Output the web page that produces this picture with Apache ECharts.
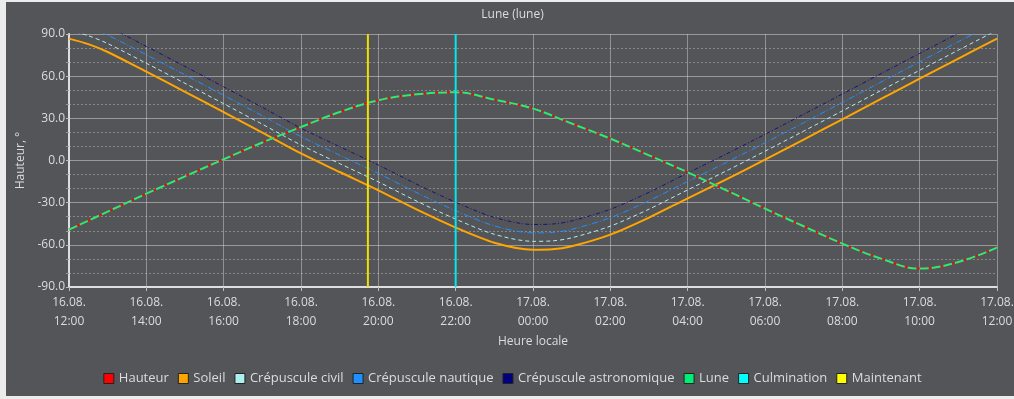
<!DOCTYPE html>
<html>
<head>
<meta charset="utf-8">
<script src="https://cdn.jsdelivr.net/npm/echarts@6/dist/echarts.min.js"></script>
<style>
html,body{margin:0;padding:0;background:#ececec;width:1014px;height:399px;overflow:hidden;}
#c{position:absolute;left:6px;top:2px;width:1013px;height:394px;}
</style>
</head>
<body>
<div id="c"></div>
<script>
// hours after 16.08. 12:00
var sunHours = [0,0.5,1,2,3,4,5,6,7,8,9,10,11,12,12.5,13,14,15,16,17,18,19,20,21,22,23,24];
var soleil = [86.7,82.8,77.2,63.2,48.9,34.4,19.8,5.0,-8.2,-21.2,-35.0,-47.7,-58.5,-63.5,-63.2,-61.0,-52.7,-40.6,-26.9,-13.4,0.6,14.9,29.3,43.8,58.2,72.5,86.7];
var civil = [92.7,88.8,83.2,69.2,54.9,40.4,25.8,11.0,-2.2,-15.2,-29.0,-41.7,-52.5,-57.5,-57.2,-55.0,-46.7,-34.6,-20.9,-7.4,6.6,20.9,35.3,49.8,64.2,78.5,92.7];
var nautique = [98.7,94.8,89.2,75.2,60.9,46.4,31.8,17.0,3.8,-9.2,-23.0,-35.7,-46.5,-51.5,-51.2,-49.0,-40.7,-28.6,-14.9,-1.4,12.6,26.9,41.3,55.8,70.2,84.5,98.7];
var astro = [104.7,100.8,95.2,81.2,66.9,52.4,37.8,23.0,9.8,-3.2,-17.0,-29.7,-40.5,-45.5,-45.2,-43.0,-34.7,-22.6,-8.9,4.6,18.6,32.9,47.3,61.8,76.2,90.5,104.7];
var moonHours = [0,1,2,3,4,5,6,7,8,9,10,11,12,13,14,15,16,17,18,19,20,21,22,23,24];
var lune = [-49.2,-36.4,-23.6,-11.3,0.9,12.8,23.8,34.5,42.8,47.1,48.5,43.3,36.9,26.3,15.6,3.7,-8.4,-21.2,-34.2,-46.8,-59.1,-69.8,-76.9,-72.2,-62.0];
var culminationHour = 10.0;
var maintenantHour = 7.73;
var xTickDays = ['16.08.','16.08.','16.08.','16.08.','16.08.','16.08.','17.08.','17.08.','17.08.','17.08.','17.08.','17.08.','17.08.'];
var xTickTimes = ['12:00','14:00','16:00','18:00','20:00','22:00','00:00','02:00','04:00','06:00','08:00','10:00','12:00'];

function pairs(xs, ys){ return xs.map(function(x,i){ return [x, ys[i]]; }); }

var txt = '#dcdcdc';
var font = 'Open Sans';
var chart = echarts.init(document.getElementById('c'));
chart.setOption({
  backgroundColor: '#545559',
  animation: false,
  textStyle: {fontFamily: font},
  graphic: [{
    type: 'text', left: 'center', top: 7,
    style: {text: 'Lune (lune)', fill: txt, font: '12px "Open Sans"'}
  }],
  grid: {left: 63, right: 22, top: 32, bottom: 109, containLabel: false, outerBoundsMode: 'none'},
  legend: {
    left: 'center', top: 365, itemWidth: 10, itemHeight: 10, itemGap: 9,
    icon: 'rect',
    textStyle: {color: txt, fontSize: 13, fontFamily: font},
    itemStyle: {borderColor: '#222', borderWidth: 1},
    data: ['Hauteur','Soleil','Crépuscule civil','Crépuscule nautique','Crépuscule astronomique','Lune','Culmination','Maintenant']
  },
  xAxis: {
    type: 'value', min: 0, max: 24, interval: 2,
    name: 'Heure locale', nameLocation: 'middle', nameGap: 46,
    nameTextStyle: {color: txt, fontSize: 12},
    axisLine: {show: true, onZero: false, lineStyle: {color: '#dedede', width: 2}},
    axisTick: {show: true, length: 4, lineStyle: {color: '#bdbdbd'}},
    axisLabel: {color: txt, fontSize: 12, lineHeight: 19, margin: 6,
      formatter: function(v){ var i = Math.round(v/2); return xTickDays[i] + '\n' + xTickTimes[i]; }},
    splitLine: {show: true, lineStyle: {color: 'rgba(220,220,220,0.45)', width: 1}}
  },
  yAxis: {
    type: 'value', min: -90, max: 90, interval: 30,
    name: 'Hauteur, °', nameLocation: 'middle', nameGap: 40, nameRotate: 90,
    nameTextStyle: {color: txt, fontSize: 12},
    axisLine: {show: true, lineStyle: {color: '#dedede', width: 2}},
    axisTick: {show: true, length: 3, lineStyle: {color: '#bdbdbd'}},
    minorTick: {show: true, splitNumber: 3, length: 3, lineStyle: {color: '#9a9a9a'}},
    minorSplitLine: {show: true, lineStyle: {color: 'rgba(200,200,200,0.45)', type: [2,2], width: 1}},
    axisLabel: {color: txt, fontSize: 12, margin: 4, formatter: function(v){ return v.toFixed(1); }},
    splitLine: {show: true, lineStyle: {color: 'rgba(220,220,220,0.5)', width: 1}}
  },
  series: [
    {name: 'Hauteur', type: 'line', data: pairs(moonHours, lune), smooth: 0.4, showSymbol: false, symbol: 'none',
      itemStyle: {color: '#ff0000'}, lineStyle: {color: '#e01010', width: 2}, z: 3},
    {name: 'Soleil', type: 'line', data: pairs(sunHours, soleil), smooth: 0.3, showSymbol: false, symbol: 'none',
      itemStyle: {color: '#ffa500'}, lineStyle: {color: '#ffa500', width: 2}, z: 2},
    {name: 'Crépuscule civil', type: 'line', data: pairs(sunHours, civil), smooth: 0.3, showSymbol: false, symbol: 'none',
      itemStyle: {color: '#afeeee'}, lineStyle: {color: '#afeeee', width: 1, type: [4,3]}, z: 2},
    {name: 'Crépuscule nautique', type: 'line', data: pairs(sunHours, nautique), smooth: 0.3, showSymbol: false, symbol: 'none',
      itemStyle: {color: '#1e90ff'}, lineStyle: {color: '#1e90ff', width: 1, type: [6,2,1,2]}, z: 2},
    {name: 'Crépuscule astronomique', type: 'line', data: pairs(sunHours, astro), smooth: 0.3, showSymbol: false, symbol: 'none',
      itemStyle: {color: '#000080'}, lineStyle: {color: '#13137a', width: 1, type: [4,2,1,2]}, z: 2},
    {name: 'Lune', type: 'line', data: pairs(moonHours, lune), smooth: 0.4, showSymbol: false, symbol: 'none',
      itemStyle: {color: '#00ee76'}, lineStyle: {color: '#1ef07c', width: 2, type: [9,3]}, z: 4},
    {name: 'Culmination', type: 'line', data: [[culminationHour,-90],[culminationHour,90]], showSymbol: false, symbol: 'none',
      itemStyle: {color: '#00ffff'}, lineStyle: {color: '#00e8f0', width: 2}, z: 5},
    {name: 'Maintenant', type: 'line', data: [[maintenantHour,-90],[maintenantHour,90]], showSymbol: false, symbol: 'none',
      itemStyle: {color: '#ffff00'}, lineStyle: {color: '#f0e000', width: 2}, z: 5}
  ]
});
</script>
</body>
</html>
